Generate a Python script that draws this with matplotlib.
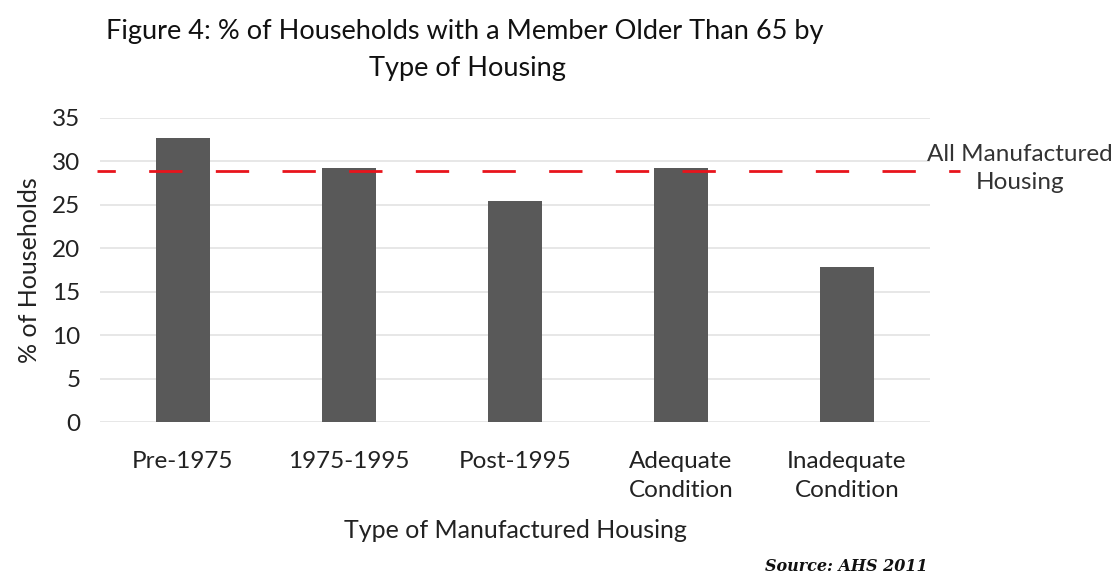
import matplotlib
matplotlib.use("Agg")
import matplotlib.pyplot as plt
import numpy as np

# chart data
categories = ["Pre-1975", "1975-1995", "Post-1995", "Adequate\nCondition", "Inadequate\nCondition"]
pct_households = [32.7, 29.2, 25.4, 29.2, 17.8]
all_manufactured = 28.9
y_ticks = [0, 5, 10, 15, 20, 25, 30, 35]

plt.rcParams["font.family"] = ["Lato", "DejaVu Sans"]

fig = plt.figure(figsize=(11.18, 5.77), dpi=100)
ax = fig.add_axes([0.0894, 0.2686, 0.7424, 0.527])

x = np.arange(len(categories))
ax.bar(x, pct_households, width=0.32, color="#595959", zorder=3)

# reference line for all manufactured housing
ax.plot([-0.52, 4.68], [all_manufactured, all_manufactured], color="#e8141c",
        lw=2, ls=(5.4, (12, 12)), zorder=4, clip_on=False)
fig.text(0.912, 0.708, "All Manufactured\nHousing", ha="center", va="center",
         fontsize=17.5, color="#333333", linespacing=1.45)

ax.set_xlim(-0.5, 4.5)
ax.set_ylim(0, 35)
ax.set_yticks(y_ticks)
ax.grid(axis="y", color="#e3e3e3", lw=1.2, zorder=0)
for s in ax.spines.values():
    s.set_visible(False)
ax.tick_params(length=0, labelsize=17.5, colors="#222222")
ax.tick_params(axis="x", pad=21)
ax.tick_params(axis="y", pad=14)
ax.set_xticks(x)
ax.set_xticklabels(categories, linespacing=1.45)

ax.set_ylabel("% of Households", fontsize=18, color="#222222", labelpad=8)
ax.set_xlabel("Type of Manufactured Housing", fontsize=18, color="#222222", labelpad=13)

fig.text(0.416, 0.945, "Figure 4: % of Households with a Member Older Than 65 by",
         ha="center", va="center", fontsize=19.5, color="#111111")
fig.text(0.418, 0.882, "Type of Housing", ha="center", va="center",
         fontsize=19.5, color="#111111")
fig.text(0.83, 0.004, "Source: AHS 2011", ha="right", va="bottom",
         family="DejaVu Serif", style="italic", weight="bold", fontsize=11.5, color="#111111")

fig.savefig("out.png", dpi=100)
